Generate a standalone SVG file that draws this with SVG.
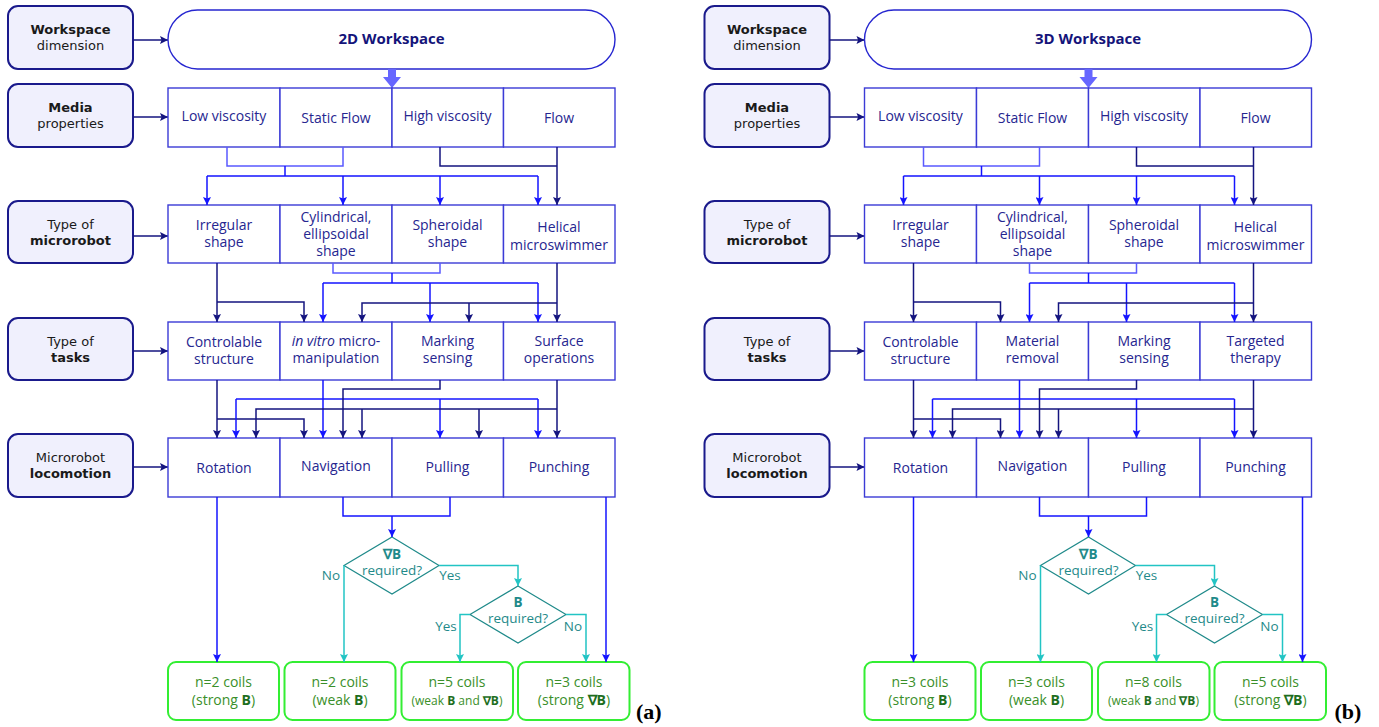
<svg xmlns="http://www.w3.org/2000/svg" width="1379" height="727" viewBox="0 0 1379 727">
<style>
.lbl{fill:#f0f0fd;stroke:#1a1a8c;stroke-width:2}
.lt{font-family:"DejaVu Sans",sans-serif;font-size:13px;fill:#1a1a1a;text-anchor:middle}
.b{font-weight:bold}
.cell{fill:#fff;stroke:#3b3bd6;stroke-width:1.4}
.ct{font-family:"Open Sans",sans-serif;font-size:14px;fill:#262690;text-anchor:middle}
.wt{font-family:"Open Sans",sans-serif;font-size:15px;font-weight:bold;fill:#14147a;text-anchor:middle}
.nv{stroke:#14147f;stroke-width:1.5;fill:none}
.bl{stroke:#1414ff;stroke-width:1.5;fill:none}
.br{stroke:#5a5aff;stroke-width:1.5;fill:none}
.cy{stroke:#22c4c4;stroke-width:1.5;fill:none}
.dia{fill:#fff;stroke:#1f8a8a;stroke-width:1.2}
.dt{font-family:"Open Sans",sans-serif;font-size:13.5px;fill:#1f8a8a;text-anchor:middle}
.gb{fill:#fff;stroke:#33ee33;stroke-width:2}
.gt{font-family:"Open Sans",sans-serif;font-size:14px;fill:#3a8f2a;text-anchor:middle}
.gB{font-weight:bold;fill:#1e6e1e}
.pl{font-family:"Liberation Serif",serif;font-size:22px;font-weight:bold;fill:#000}
</style>
<defs>
<marker id="aN" viewBox="0 0 10 10" refX="10" refY="5" markerWidth="10" markerHeight="8" markerUnits="userSpaceOnUse" orient="auto"><path d="M0,0 L10,5 L0,10 L2,5 z" fill="#14147f"/></marker>
<marker id="aB" viewBox="0 0 10 10" refX="10" refY="5" markerWidth="10" markerHeight="8" markerUnits="userSpaceOnUse" orient="auto"><path d="M0,0 L10,5 L0,10 L2,5 z" fill="#1414ff"/></marker>
<marker id="aC" viewBox="0 0 10 10" refX="10" refY="5" markerWidth="10" markerHeight="8" markerUnits="userSpaceOnUse" orient="auto"><path d="M0,0 L10,5 L0,10 L2,5 z" fill="#22c4c4"/></marker>
<g id="labels">
<g id="lbl-ws"><rect class="lbl" x="8" y="6" width="125" height="63" rx="10"/><text class="lt" x="70.5" y="34"><tspan class="b">Workspace</tspan><tspan x="70.5" y="50">dimension</tspan></text></g>
<g id="lbl-media"><rect class="lbl" x="8" y="84" width="125" height="63" rx="10"/><text class="lt" x="70.5" y="112"><tspan class="b">Media</tspan><tspan x="70.5" y="128">properties</tspan></text></g>
<g id="lbl-robot"><rect class="lbl" x="8" y="201" width="125" height="62" rx="10"/><text class="lt" x="70.5" y="229">Type of<tspan class="b" x="70.5" y="245">microrobot</tspan></text></g>
<g id="lbl-tasks"><rect class="lbl" x="8" y="318" width="125" height="62" rx="10"/><text class="lt" x="70.5" y="346">Type of<tspan class="b" x="70.5" y="362">tasks</tspan></text></g>
<g id="lbl-loco"><rect class="lbl" x="8" y="434" width="125" height="63" rx="10"/><text class="lt" x="70.5" y="462">Microrobot<tspan class="b" x="70.5" y="478">locomotion</tspan></text></g>
<path class="nv" d="M133,40 H168" marker-end="url(#aN)"/>
<path class="nv" d="M133,117 H168" marker-end="url(#aN)"/>
<path class="nv" d="M133,236 H168" marker-end="url(#aN)"/>
<path class="nv" d="M133,351 H168" marker-end="url(#aN)"/>
<path class="nv" d="M133,467 H168" marker-end="url(#aN)"/>
</g>
</defs>
<g id="panel-a">
<use href="#labels"/>
<g id="ws-a"><rect x="168" y="10" width="447" height="59" rx="29.5" fill="#fff" stroke="#2626d0" stroke-width="1.4"/><text class="wt" x="391.5" y="44">2D Workspace</text></g>
<polygon points="388,69 396,69 396,77 401,77 392,88 383,77 388,77" fill="#6666ff"/>
<g id="media-a">
<rect class="cell" x="168" y="88" width="112" height="59"/><text class="ct" x="224" y="121">Low viscosity</text>
<rect class="cell" x="280" y="88" width="112" height="59"/><text class="ct" x="336" y="123">Static Flow</text>
<rect class="cell" x="392" y="88" width="111.5" height="59"/><text class="ct" x="447.5" y="121">High viscosity</text>
<rect class="cell" x="503.5" y="88" width="111.5" height="59"/><text class="ct" x="559" y="123">Flow</text>
</g>
<g id="robot-a">
<rect class="cell" x="168" y="205" width="112" height="58"/><text class="ct" x="224" y="230">Irregular<tspan x="224" y="247">shape</tspan></text>
<rect class="cell" x="280" y="205" width="112" height="58"/><text class="ct" x="336" y="222">Cylindrical,<tspan x="336" y="239">ellipsoidal</tspan><tspan x="336" y="256">shape</tspan></text>
<rect class="cell" x="392" y="205" width="111.5" height="58"/><text class="ct" x="447.5" y="230">Spheroidal<tspan x="447.5" y="247">shape</tspan></text>
<rect class="cell" x="503.5" y="205" width="111.5" height="58"/><text class="ct" x="559" y="232">Helical<tspan x="559" y="250">microswimmer</tspan></text>
</g>
<g id="tasks-a">
<rect class="cell" x="168" y="322" width="112" height="58"/><text class="ct" x="224" y="347">Controlable<tspan x="224" y="364">structure</tspan></text>
<rect class="cell" x="280" y="322" width="112" height="58"/><text class="ct" x="336" y="346"><tspan font-style="italic">in vitro</tspan> micro-<tspan x="336" y="363">manipulation</tspan></text>
<rect class="cell" x="392" y="322" width="111.5" height="58"/><text class="ct" x="447.5" y="346">Marking<tspan x="447.5" y="363">sensing</tspan></text>
<rect class="cell" x="503.5" y="322" width="111.5" height="58"/><text class="ct" x="559" y="346">Surface<tspan x="559" y="363">operations</tspan></text>
</g>
<g id="loco-a">
<rect class="cell" x="168" y="438" width="112" height="59"/><text class="ct" x="224" y="473">Rotation</text>
<rect class="cell" x="280" y="438" width="112" height="59"/><text class="ct" x="336" y="471">Navigation</text>
<rect class="cell" x="392" y="438" width="111.5" height="59"/><text class="ct" x="447.5" y="472">Pulling</text>
<rect class="cell" x="503.5" y="438" width="111.5" height="59"/><text class="ct" x="559" y="472">Punching</text>
</g>
<g id="dec-a">
<polygon class="dia" points="392,537 439,565.5 392,594 344,565.5"/><text class="dt b" x="392" y="559">∇B</text><text class="dt" x="392" y="575">required?</text>
<polygon class="dia" points="518,586 566,614.5 518,643 470,614.5"/><text class="dt b" x="518" y="607">B</text><text class="dt" x="518" y="623">required?</text>
<text class="dt" x="331" y="580">No</text><text class="dt" x="450" y="580">Yes</text>
<text class="dt" x="446" y="631">Yes</text><text class="dt" x="573" y="631">No</text>
</g>
<g id="coils-a">
<rect class="gb" x="168" y="662" width="111" height="58" rx="8"/><text class="gt" x="223.5" y="687">n=2 coils<tspan x="223.5" y="705">(strong <tspan class="gB">B</tspan>)</tspan></text>
<rect class="gb" x="284.5" y="662" width="111" height="58" rx="8"/><text class="gt" x="340" y="687">n=2 coils<tspan x="340" y="705">(weak <tspan class="gB">B</tspan>)</tspan></text>
<rect class="gb" x="401.5" y="662" width="111.5" height="58" rx="8"/><text class="gt" x="457" y="687">n=5 coils<tspan x="457" y="705" font-size="12">(weak <tspan class="gB">B</tspan> and <tspan class="gB">∇B</tspan>)</tspan></text>
<rect class="gb" x="518" y="662" width="111.5" height="58" rx="8"/><text class="gt" x="574" y="687">n=3 coils<tspan x="574" y="705">(strong <tspan class="gB">∇B</tspan>)</tspan></text>
</g>
<text class="pl" x="636" y="719">(a)</text>
<g id="connectors-a">
<path class="br" d="M227,147 V166 H343 V147"/>
<path class="bl" d="M285,166 V176 M207,176 H538"/>
<path class="bl" d="M207,176 V205" marker-end="url(#aB)"/><path class="bl" d="M343,176 V205" marker-end="url(#aB)"/><path class="bl" d="M440,176 V205" marker-end="url(#aB)"/><path class="bl" d="M538,176 V205" marker-end="url(#aB)"/>
<path class="nv" d="M440,147 V166 H557"/><path class="nv" d="M557,147 V205" marker-end="url(#aN)"/>
<path class="nv" d="M217,263 V322" marker-end="url(#aN)"/><path class="nv" d="M217,302 H304 V322" marker-end="url(#aN)"/>
<path class="br" d="M333,263 V273 H440 V263"/>
<path class="bl" d="M392,273 V283 M323,283 H538"/>
<path class="bl" d="M323,283 V322" marker-end="url(#aB)"/><path class="bl" d="M430,283 V322" marker-end="url(#aB)"/><path class="bl" d="M538,283 V322" marker-end="url(#aB)"/>
<path class="nv" d="M557,263 V322" marker-end="url(#aN)"/><path class="nv" d="M557,303 H362 V322" marker-end="url(#aN)"/><path class="nv" d="M469,303 V322" marker-end="url(#aN)"/>
<path class="nv" d="M217,380 V438" marker-end="url(#aN)"/><path class="nv" d="M217,419 H304 V438" marker-end="url(#aN)"/>
<path class="bl" d="M323,380 V438" marker-end="url(#aB)"/>
<path class="bl" d="M236,399 H538"/>
<path class="bl" d="M236,399 V438" marker-end="url(#aB)"/><path class="bl" d="M440,399 V438" marker-end="url(#aB)"/><path class="bl" d="M538,399 V438" marker-end="url(#aB)"/>
<path class="nv" d="M440,380 V389 H343 V438" marker-end="url(#aN)"/>
<path class="nv" d="M557,380 V438" marker-end="url(#aN)"/><path class="nv" d="M557,409 H256 V438" marker-end="url(#aN)"/><path class="nv" d="M362,409 V438" marker-end="url(#aN)"/><path class="nv" d="M479,409 V438" marker-end="url(#aN)"/>
<path class="bl" d="M217,497 V662" marker-end="url(#aB)"/>
<path class="bl" d="M343,497 V516 H450 V497"/><path class="bl" d="M392,516 V537" marker-end="url(#aB)"/>
<path class="bl" d="M606,497 V662" marker-end="url(#aB)"/>
<path class="cy" d="M344,565.5 V662" marker-end="url(#aC)"/>
<path class="cy" d="M439,565.5 H518 V586" marker-end="url(#aC)"/>
<path class="cy" d="M470,614.5 H460 V662" marker-end="url(#aC)"/>
<path class="cy" d="M566,614.5 H586 V662" marker-end="url(#aC)"/>
</g>
</g>
<g id="panel-b" transform="translate(696.5,0)">
<use href="#labels"/>
<g id="ws-b"><rect x="168" y="10" width="447" height="59" rx="29.5" fill="#fff" stroke="#2626d0" stroke-width="1.4"/><text class="wt" x="391.5" y="44">3D Workspace</text></g>
<polygon points="388,69 396,69 396,77 401,77 392,88 383,77 388,77" fill="#6666ff"/>
<g id="media-b">
<rect class="cell" x="168" y="88" width="112" height="59"/><text class="ct" x="224" y="121">Low viscosity</text>
<rect class="cell" x="280" y="88" width="112" height="59"/><text class="ct" x="336" y="123">Static Flow</text>
<rect class="cell" x="392" y="88" width="111.5" height="59"/><text class="ct" x="447.5" y="121">High viscosity</text>
<rect class="cell" x="503.5" y="88" width="111.5" height="59"/><text class="ct" x="559" y="123">Flow</text>
</g>
<g id="robot-b">
<rect class="cell" x="168" y="205" width="112" height="58"/><text class="ct" x="224" y="230">Irregular<tspan x="224" y="247">shape</tspan></text>
<rect class="cell" x="280" y="205" width="112" height="58"/><text class="ct" x="336" y="222">Cylindrical,<tspan x="336" y="239">ellipsoidal</tspan><tspan x="336" y="256">shape</tspan></text>
<rect class="cell" x="392" y="205" width="111.5" height="58"/><text class="ct" x="447.5" y="230">Spheroidal<tspan x="447.5" y="247">shape</tspan></text>
<rect class="cell" x="503.5" y="205" width="111.5" height="58"/><text class="ct" x="559" y="232">Helical<tspan x="559" y="250">microswimmer</tspan></text>
</g>
<g id="tasks-b">
<rect class="cell" x="168" y="322" width="112" height="58"/><text class="ct" x="224" y="347">Controlable<tspan x="224" y="364">structure</tspan></text>
<rect class="cell" x="280" y="322" width="112" height="58"/><text class="ct" x="336" y="346">Material<tspan x="336" y="363">removal</tspan></text>
<rect class="cell" x="392" y="322" width="111.5" height="58"/><text class="ct" x="447.5" y="346">Marking<tspan x="447.5" y="363">sensing</tspan></text>
<rect class="cell" x="503.5" y="322" width="111.5" height="58"/><text class="ct" x="559" y="346">Targeted<tspan x="559" y="363">therapy</tspan></text>
</g>
<g id="loco-b">
<rect class="cell" x="168" y="438" width="112" height="59"/><text class="ct" x="224" y="473">Rotation</text>
<rect class="cell" x="280" y="438" width="112" height="59"/><text class="ct" x="336" y="471">Navigation</text>
<rect class="cell" x="392" y="438" width="111.5" height="59"/><text class="ct" x="447.5" y="472">Pulling</text>
<rect class="cell" x="503.5" y="438" width="111.5" height="59"/><text class="ct" x="559" y="472">Punching</text>
</g>
<g id="dec-b">
<polygon class="dia" points="392,537 439,565.5 392,594 344,565.5"/><text class="dt b" x="392" y="559">∇B</text><text class="dt" x="392" y="575">required?</text>
<polygon class="dia" points="518,586 566,614.5 518,643 470,614.5"/><text class="dt b" x="518" y="607">B</text><text class="dt" x="518" y="623">required?</text>
<text class="dt" x="331" y="580">No</text><text class="dt" x="450" y="580">Yes</text>
<text class="dt" x="446" y="631">Yes</text><text class="dt" x="573" y="631">No</text>
</g>
<g id="coils-b">
<rect class="gb" x="168" y="662" width="111" height="58" rx="8"/><text class="gt" x="223.5" y="687">n=3 coils<tspan x="223.5" y="705">(strong <tspan class="gB">B</tspan>)</tspan></text>
<rect class="gb" x="284.5" y="662" width="111" height="58" rx="8"/><text class="gt" x="340" y="687">n=3 coils<tspan x="340" y="705">(weak <tspan class="gB">B</tspan>)</tspan></text>
<rect class="gb" x="401.5" y="662" width="111.5" height="58" rx="8"/><text class="gt" x="457" y="687">n=8 coils<tspan x="457" y="705" font-size="12">(weak <tspan class="gB">B</tspan> and <tspan class="gB">∇B</tspan>)</tspan></text>
<rect class="gb" x="518" y="662" width="111.5" height="58" rx="8"/><text class="gt" x="574" y="687">n=5 coils<tspan x="574" y="705">(strong <tspan class="gB">∇B</tspan>)</tspan></text>
</g>
<text class="pl" x="638" y="719">(b)</text>
<g id="connectors-b">
<path class="br" d="M227,147 V166 H343 V147"/>
<path class="bl" d="M285,166 V176 M207,176 H538"/>
<path class="bl" d="M207,176 V205" marker-end="url(#aB)"/><path class="bl" d="M343,176 V205" marker-end="url(#aB)"/><path class="bl" d="M440,176 V205" marker-end="url(#aB)"/><path class="bl" d="M538,176 V205" marker-end="url(#aB)"/>
<path class="nv" d="M440,147 V166 H557"/><path class="nv" d="M557,147 V205" marker-end="url(#aN)"/>
<path class="nv" d="M217,263 V322" marker-end="url(#aN)"/><path class="nv" d="M217,302 H304 V322" marker-end="url(#aN)"/>
<path class="br" d="M333,263 V273 H440 V263"/>
<path class="bl" d="M392,273 V283 M333,283 H538"/>
<path class="bl" d="M333,283 V322" marker-end="url(#aB)"/><path class="bl" d="M430,283 V322" marker-end="url(#aB)"/><path class="bl" d="M538,283 V322" marker-end="url(#aB)"/>
<path class="nv" d="M557,263 V322" marker-end="url(#aN)"/><path class="nv" d="M557,303 H362 V322" marker-end="url(#aN)"/>
<path class="nv" d="M217,380 V438" marker-end="url(#aN)"/><path class="nv" d="M217,419 H304 V438" marker-end="url(#aN)"/>
<path class="bl" d="M323,380 V438" marker-end="url(#aB)"/>
<path class="bl" d="M236,399 H538"/>
<path class="bl" d="M236,399 V438" marker-end="url(#aB)"/><path class="bl" d="M440,399 V438" marker-end="url(#aB)"/><path class="bl" d="M538,399 V438" marker-end="url(#aB)"/>
<path class="nv" d="M440,380 V389 H343 V438" marker-end="url(#aN)"/>
<path class="nv" d="M557,380 V438" marker-end="url(#aN)"/><path class="nv" d="M557,409 H256 V438" marker-end="url(#aN)"/><path class="nv" d="M362,409 V438" marker-end="url(#aN)"/>
<path class="bl" d="M217,497 V662" marker-end="url(#aB)"/>
<path class="bl" d="M343,497 V516 H450 V497"/><path class="bl" d="M392,516 V537" marker-end="url(#aB)"/>
<path class="bl" d="M606,497 V662" marker-end="url(#aB)"/>
<path class="cy" d="M344,565.5 V662" marker-end="url(#aC)"/>
<path class="cy" d="M439,565.5 H518 V586" marker-end="url(#aC)"/>
<path class="cy" d="M470,614.5 H460 V662" marker-end="url(#aC)"/>
<path class="cy" d="M566,614.5 H586 V662" marker-end="url(#aC)"/>
</g>
</g>
</svg>
